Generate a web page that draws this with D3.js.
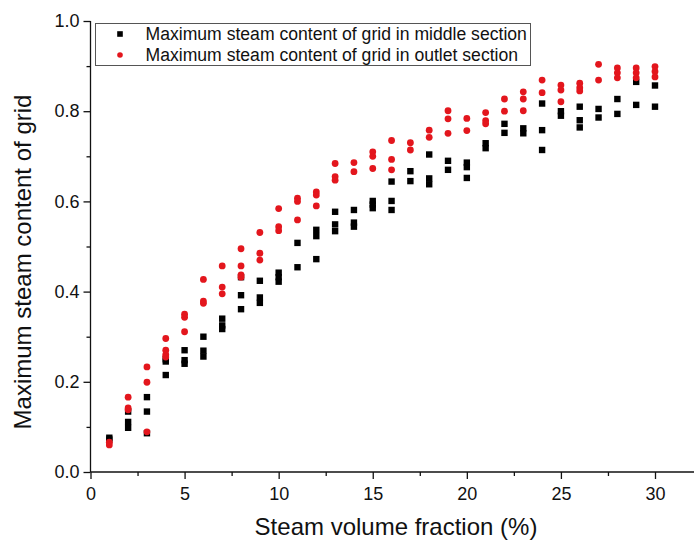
<!DOCTYPE html>
<html><head><meta charset="utf-8">
<script src="https://cdn.jsdelivr.net/npm/d3@7"></script>
<style>body{margin:0;background:#fff}svg{display:block}text{font-family:"Liberation Sans",Arial,sans-serif}</style>
</head><body><svg id="c" width="694" height="547"></svg>
<script>
const fractions = [1,2,3,4,5,6,7,8,9,10,11,12,13,14,15,16,17,18,19,20,21,22,23,24,25,26,27,28,29,30];
const middleValues = [
 [0.076,0.072],[0.134,0.111,0.098],[0.166,0.134,0.086],[0.25,0.245,0.215],[0.27,0.248,0.24],
 [0.30,0.269,0.256],[0.34,0.325,0.317],[0.432,0.392,0.361],[0.424,0.387,0.375],[0.442,0.432,0.422],
 [0.508,0.454],[0.537,0.523,0.472],[0.577,0.549,0.534],[0.581,0.553,0.544],[0.601,0.593,0.585],
 [0.644,0.601,0.581],[0.667,0.645],[0.704,0.651,0.638],[0.69,0.67],[0.686,0.676,0.652],
 [0.729,0.718],[0.772,0.752],[0.762,0.751],[0.817,0.758,0.714],[0.80,0.79],
 [0.81,0.78,0.764],[0.805,0.786],[0.827,0.794],[0.865,0.814],[0.857,0.81]
];
const outletValues = [
 [0.066,0.060],[0.166,0.142,0.138],[0.233,0.199,0.089],[0.296,0.27,0.26,0.255],[0.35,0.343,0.311],
 [0.427,0.379,0.374],[0.457,0.41,0.395],[0.495,0.457,0.437,0.432],[0.531,0.485,0.47],[0.584,0.544,0.535],
 [0.607,0.6,0.559],[0.621,0.614,0.59],[0.684,0.655,0.647],[0.686,0.666],[0.71,0.70,0.673],
 [0.735,0.693,0.67],[0.730,0.714],[0.758,0.742],[0.801,0.783,0.751],[0.784,0.757],
 [0.797,0.779,0.772],[0.827,0.80],[0.843,0.827,0.801],[0.869,0.841],[0.858,0.847,0.821],
 [0.862,0.852,0.845],[0.904,0.869],[0.896,0.885,0.874],[0.896,0.885,0.874],[0.899,0.888,0.876]
];
const xTicks = [0,5,10,15,20,25,30];
const yTicks = [0.0,0.2,0.4,0.6,0.8,1.0];
const seriesNames = ["Maximum steam content of grid in middle section","Maximum steam content of grid in outlet section"];
const xTitle = "Steam volume fraction (%)";
const yTitle = "Maximum steam content of grid";

const svg = d3.select("#c");
const x0 = 90.5, xPer = (655-90.5)/30;
const x = d3.scaleLinear().domain([0, (694-x0)/xPer]).range([x0, 694]);
const y = d3.scaleLinear().domain([0,1]).range([472,21]);
const red = "#e3161d";

// axes
const xAxis = d3.axisBottom(x).tickValues(xTicks).tickFormat(d3.format("d")).tickSize(7).tickPadding(8);
const gx = svg.append("g").attr("transform",`translate(0,${y(0)})`).call(xAxis);
gx.select(".domain").attr("d",`M${x0},0H694`);
gx.selectAll(".tick text").attr("font-size",18).attr("fill","#111");
svg.append("g").attr("transform",`translate(0,${y(0)})`)
  .call(d3.axisBottom(x).tickValues(d3.range(2.5,32,5)).tickFormat("").tickSize(4))
  .select(".domain").remove();

const yAxis = d3.axisLeft(y).tickValues(yTicks).tickFormat(d3.format(".1f")).tickSize(7).tickPadding(4);
const gy = svg.append("g").attr("transform",`translate(${x0},0)`).call(yAxis);
gy.select(".domain").attr("d",`M0,${y(0)}V${y(1)}`);
gy.selectAll(".tick text").attr("font-size",18).attr("fill","#111");
svg.append("g").attr("transform",`translate(${x0},0)`)
  .call(d3.axisLeft(y).tickValues(d3.range(0.1,1,0.2)).tickFormat("").tickSize(4))
  .select(".domain").remove();
svg.selectAll(".domain, .tick line").attr("stroke","#111").attr("stroke-width",1.3);

// points
const middlePts = fractions.flatMap((f,i)=>middleValues[i].map(v=>[f,v]));
const outletPts = fractions.flatMap((f,i)=>outletValues[i].map(v=>[f,v]));
const s = 6.4;
svg.append("g").selectAll("rect").data(middlePts).join("rect")
  .attr("x",d=>x(d[0])-s/2).attr("y",d=>y(d[1])-s/2).attr("width",s).attr("height",s).attr("fill","#000");
svg.append("g").selectAll("circle").data(outletPts).join("circle")
  .attr("cx",d=>x(d[0])).attr("cy",d=>y(d[1])).attr("r",3.4).attr("fill",red);

// legend
const lg = svg.append("g");
lg.append("rect").attr("x",95.5).attr("y",23.5).attr("width",435).attr("height",42)
  .attr("fill","#fff").attr("stroke","#555").attr("stroke-width",1);
lg.append("rect").attr("x",120-2.8).attr("y",34-2.8).attr("width",5.6).attr("height",5.6).attr("fill","#000");
lg.append("circle").attr("cx",120).attr("cy",55).attr("r",2.8).attr("fill",red);
lg.selectAll("text").data(seriesNames).join("text")
  .attr("x",145.5).attr("y",(d,i)=>39.5+i*21).attr("font-size",17.6).attr("fill","#111").text(d=>d);

// titles
svg.append("text").attr("x",396).attr("y",535).attr("text-anchor","middle").attr("font-size",24).attr("fill","#111").text(xTitle);
svg.append("text").attr("transform","translate(31,262) rotate(-90)").attr("text-anchor","middle").attr("font-size",24).attr("fill","#111").text(yTitle);
</script></body></html>
